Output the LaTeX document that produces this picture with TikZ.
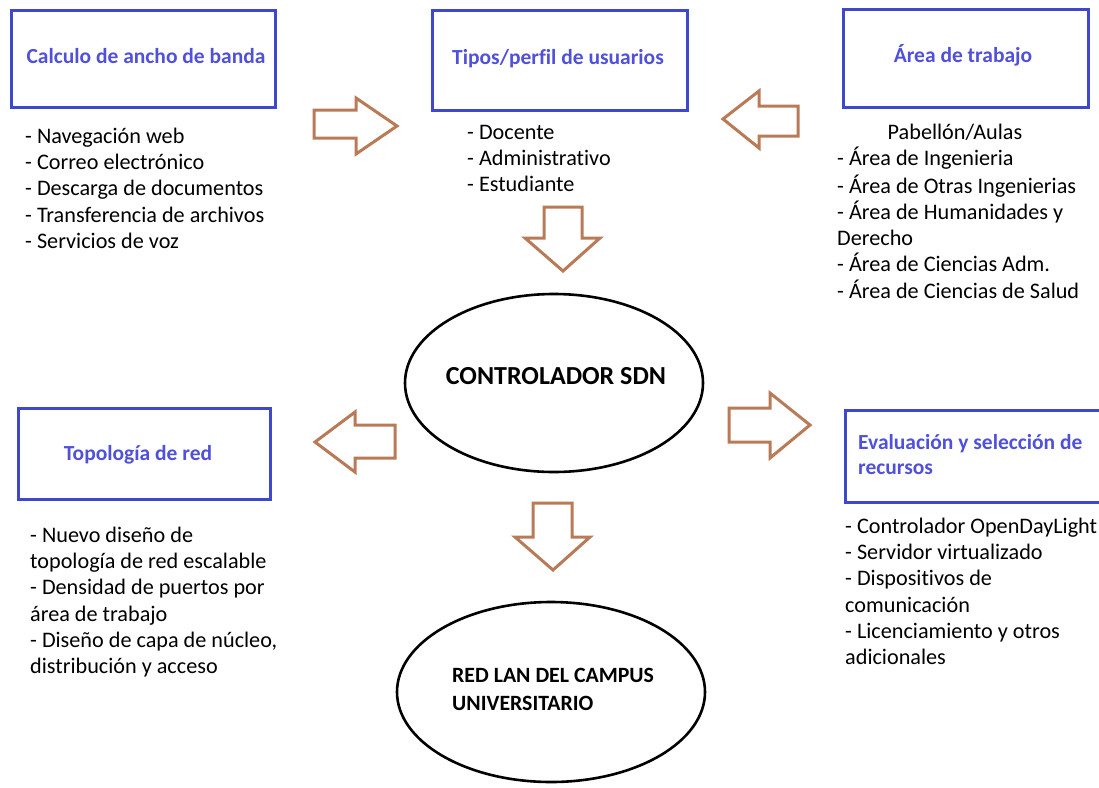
\documentclass[tikz,border=0pt]{standalone}
\usepackage{fontspec}
\setmainfont{Carlito}[Ligatures=NoCommon]
\begin{document}
\begin{tikzpicture}[x=1pt,y=-1pt,
  box/.style={draw=boxblue, line width=3pt, inner sep=0pt},
  boxtitle/.style={font=\fontsize{21.5}{25}\selectfont\bfseries, text=titleblue, inner sep=0pt},
  listtext/.style={font=\fontsize{22.2}{26.3}\selectfont, align=left, anchor=north west, inner sep=0pt},
  oval/.style={draw=black, line width=2.6pt},
  ovaltext/.style={font=\fontsize{21.8}{26}\selectfont\bfseries, inner sep=0pt},
  blockarrow/.style={draw=arrowbrown, line width=3pt, fill=white, line join=miter},
]
\definecolor{boxblue}{HTML}{3F48CC}
\definecolor{titleblue}{HTML}{5050DA}
\definecolor{arrowbrown}{HTML}{B97A57}
\clip (0,0) rectangle (1099,787);
\fill[white] (0,0) rectangle (1099,787);

% boxes
\draw[box] (11,10) rectangle (275,107);
\draw[box] (432,10) rectangle (687,110);
\draw[box] (843,9) rectangle (1088,107);
\draw[box] (18,408) rectangle (270,499);
\draw[box] (845,410) rectangle (1110,502);

% box titles
\node[boxtitle, anchor=base] (t1) at (146,63) {Calculo de ancho de banda};
\node[boxtitle, anchor=base] (t2) at (558,64) {Tipos/perfil de usuarios};
\node[boxtitle, anchor=base] (t3) at (963,62) {Área de trabajo};
\node[boxtitle, anchor=base] (t4) at (138,460) {Topología de red};
\node[boxtitle, anchor=base west] (t5a) at (858,449) {Evaluación y selección de};
\node[boxtitle, anchor=base west] (t5b) at (858,474) {recursos};

% item lists (first baseline minus strut height 18.41)
\node[listtext] (l1) at (25,124.6) {\strut- Navegación web\\- Correo electrónico\\- Descarga de documentos\\- Transferencia de archivos\\- Servicios de voz};
\node[listtext] (l2) at (467,120.6) {\strut- Docente\\- Administrativo\\- Estudiante};
\node[listtext, align=center, anchor=north] (l3h) at (955,120.6) {\strut Pabellón/Aulas};
\node[listtext] (l3) at (837,146.9) {\strut- Área de Ingenieria\\- Área de Otras Ingenierias\\- Área de Humanidades y\\Derecho\\- Área de Ciencias Adm.\\- Área de Ciencias de Salud};
\node[listtext] (l4) at (30,523.6) {\strut- Nuevo diseño de\\topología de red escalable\\- Densidad de puertos por\\área de trabajo\\- Diseño de capa de núcleo,\\distribución y acceso};
\node[listtext] (l5) at (845,514.6) {\strut- Controlador OpenDayLight\\- Servidor virtualizado\\- Dispositivos de\\comunicación\\- Licenciamiento y otros\\adicionales};

% ellipses
\draw[oval] (554,383) ellipse [x radius=149, y radius=89];
\node[ovaltext, font=\fontsize{26}{30}\selectfont\bfseries, anchor=base] (sdn) at (556,384) {CONTROLADOR SDN};
\draw[oval] (551,692) ellipse [x radius=154, y radius=90];
\node[ovaltext, anchor=base west] (lan1) at (452,682) {RED LAN DEL CAMPUS};
\node[ovaltext, anchor=base west] (lan2) at (452,710) {UNIVERSITARIO};

% block arrows
\draw[blockarrow] (314,110) -- (356,110) -- (356,98) -- (397,126) -- (356,154) -- (356,138) -- (314,138) -- cycle;
\draw[blockarrow] (798,106) -- (759,106) -- (759,91) -- (723,119) -- (759,148) -- (759,136) -- (798,136) -- cycle;
\draw[blockarrow] (544,207) -- (582,207) -- (582,238) -- (600,238) -- (563,271) -- (525,238) -- (544,238) -- cycle;
\draw[blockarrow] (395,425) -- (355,425) -- (355,412) -- (315,442) -- (355,472) -- (355,458) -- (395,458) -- cycle;
\draw[blockarrow] (729,408) -- (770,408) -- (770,393) -- (810,425) -- (770,458) -- (770,442) -- (729,442) -- cycle;
\draw[blockarrow] (533,503) -- (572,503) -- (572,537) -- (590,537) -- (553,570) -- (515,537) -- (533,537) -- cycle;
\end{tikzpicture}
\end{document}
